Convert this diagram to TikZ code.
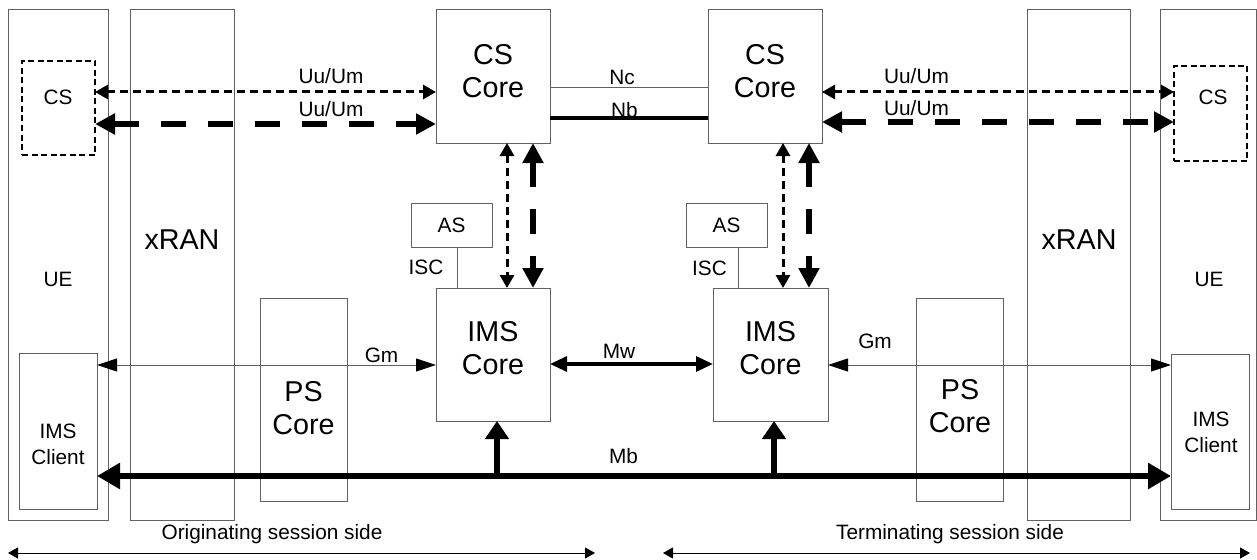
\documentclass[tikz,border=0pt]{standalone}
\usepackage{fontspec}
\setmainfont{Liberation Sans}
\usetikzlibrary{arrows.meta,calc}
\definecolor{boxgray}{gray}{0.38}
\begin{document}
\begin{tikzpicture}[x=1pt,y=-1pt,
  box/.style={draw=boxgray, line width=1pt, inner sep=0pt, outer sep=0pt, fill=white},
  dbox/.style={draw=black, line width=2pt, dash pattern=on 6pt off 3.5pt, inner sep=0pt, outer sep=0pt},
  big/.style={font=\fontsize{28.7}{33}\selectfont, align=center, inner sep=0pt},
  small/.style={font=\fontsize{20.8}{26}\selectfont, align=center, inner sep=0pt},
  thindash/.style={line width=3pt, dash pattern=on 8pt off 5pt, {Triangle[length=13pt,width=14pt]}-{Triangle[length=13pt,width=14pt]}},
  thickdash/.style={line width=6.5pt, dash pattern=on 25pt off 22pt, {Triangle[length=20pt,width=20pt]}-{Triangle[length=20pt,width=20pt]}},
  thinlink/.style={draw=boxgray, line width=1pt},
  gmlink/.style={draw=boxgray, line width=1pt, {Triangle[length=20pt,width=13pt,color=black]}-{Triangle[length=20pt,width=13pt,color=black]}},
  mwlink/.style={line width=3.3pt, {Triangle[length=17pt,width=15pt]}-{Triangle[length=17pt,width=15pt]}},
  mblink/.style={line width=6pt, {Triangle[length=23pt,width=25pt]}-{Triangle[length=23pt,width=25pt]}},
  mbup/.style={line width=6pt, -{Triangle[length=18pt,width=23pt]}},
  sidearrow/.style={line width=1pt, {Triangle[length=10pt,width=11pt]}-{Triangle[length=10pt,width=11pt]}}
]
\useasboundingbox (0,0) rectangle (1257,559);

% tall boxes
\node[box, minimum width=100pt, minimum height=510pt] (ueL) at (58,265) {};
\node[box, minimum width=104pt, minimum height=510pt] (ranL) at (182,265) {};
\node[box, minimum width=103pt, minimum height=510pt] (ranR) at (1078.5,265) {};
\node[box, minimum width=96pt, minimum height=510pt] (ueR) at (1208,265) {};
\node[small] (ueLt) at (58,279) {UE};
\node[big] (ranLt) at (182,240) {xRAN};
\node[big] (ranRt) at (1079,240) {xRAN};
\node[small] (ueRt) at (1209,279) {UE};

% CS boxes in UE
\node[dbox, minimum width=73pt, minimum height=94pt] (csL) at (58.5,108) {};
\node[small] (csLt) at (58,97) {CS};
\node[dbox, minimum width=73pt, minimum height=95pt] (csR) at (1210.5,113.5) {};
\node[small] (csRt) at (1213,97) {CS};

% IMS clients
\node[box, minimum width=78pt, minimum height=156pt] (imsclL) at (58,431) {};
\node[small] (imsclLt) at (58,444) {IMS\\Client};
\node[box, minimum width=78pt, minimum height=155pt] (imsclR) at (1210,431.5) {};
\node[small] (imsclRt) at (1211,432) {IMS\\Client};

% PS cores
\node[box, minimum width=87pt, minimum height=203pt] (psL) at (303.5,399.5) {};
\node[big] (psLt) at (303.5,408) {PS\\Core};
\node[box, minimum width=87pt, minimum height=203pt] (psR) at (959.5,399.5) {};
\node[big] (psRt) at (960,406) {PS\\Core};

% CS cores
\node[box, minimum width=114pt, minimum height=133pt] (cscL) at (493,76.5) {};
\node[big] (cscLt) at (493,71) {CS\\Core};
\node[box, minimum width=114pt, minimum height=133pt] (cscR) at (765,76.5) {};
\node[big] (cscRt) at (765,71) {CS\\Core};

% AS
\node[box, minimum width=81pt, minimum height=44pt, font=\fontsize{20.8}{26}\selectfont] (asL) at (451.5,225) {AS};
\node[box, minimum width=81pt, minimum height=44pt, font=\fontsize{20.8}{26}\selectfont] (asR) at (726.5,225) {AS};

% IMS cores
\node[box, minimum width=114pt, minimum height=133pt] (imsL) at (493,354.5) {};
\node[big] (imsLt) at (493,348) {IMS\\Core};
\node[box, minimum width=115pt, minimum height=133pt] (imsR) at (770.5,354.5) {};
\node[big] (imsRt) at (770.5,348) {IMS\\Core};

% helper heights
\coordinate (yU1) at (0,92);
\coordinate (yU2) at (0,124);
\coordinate (yU2r) at (0,122);
\coordinate (yNc) at (0,88);
\coordinate (yNb) at (0,118);
\coordinate (yGm) at (0,365);
\coordinate (yMw) at (0,364);
\coordinate (yMb) at (0,476);
\coordinate (xV1) at (507,0);
\coordinate (xV2) at (533,0);
\coordinate (xV3) at (783,0);
\coordinate (xV4) at (809,0);
\coordinate (xI1) at (457,0);
\coordinate (xI2) at (738,0);
\coordinate (xM1) at (497,0);
\coordinate (xM2) at (774,0);
\coordinate (sideL1) at (8,553);
\coordinate (sideL2) at (595,553);
\coordinate (sideR1) at (663,553);
\coordinate (sideR2) at (1250,553);

% Uu/Um links
\draw[thindash] (csL.east |- yU1) -- (cscL.west |- yU1);
\draw[thickdash] (csL.east |- yU2) -- (cscL.west |- yU2);
\draw[thindash] (cscR.east |- yU1) -- (csR.west |- yU1);
\draw[thickdash] (cscR.east |- yU2r) -- (csR.west |- yU2r);
\node[small] (uu1) at (331,76.5) {Uu/Um};
\node[small] (uu2) at (331,109) {Uu/Um};
\node[small] (uu3) at (916.5,76) {Uu/Um};
\node[small] (uu4) at (916.5,108) {Uu/Um};

% Nc / Nb
\draw[thinlink] (cscL.east |- yNc) -- (cscR.west |- yNc);
\draw[line width=4.5pt] (cscL.east |- yNb) -- (cscR.west |- yNb);
\node[small] (nc) at (622,77.5) {Nc};
\node[small] (nb) at (624.5,110) {Nb};

% CS core <-> IMS core
\draw[thindash] (cscL.south -| xV1) -- (imsL.north -| xV1);
\draw[thickdash] (cscL.south -| xV2) -- (imsL.north -| xV2);
\draw[thindash] (cscR.south -| xV3) -- (imsR.north -| xV3);
\draw[thickdash] (cscR.south -| xV4) -- (imsR.north -| xV4);

% ISC
\draw[thinlink] (asL.south -| xI1) -- (imsL.north -| xI1);
\draw[thinlink] (asR.south -| xI2) -- (imsR.north -| xI2);
\node[small] (iscL) at (426,267) {ISC};
\node[small] (iscR) at (709.5,268) {ISC};

% Gm
\draw[gmlink] (imsclL.east |- yGm) -- (imsL.west |- yGm);
\draw[gmlink] (imsR.east |- yGm) -- (imsclR.west |- yGm);
\node[small] (gmL) at (381.5,355) {Gm};
\node[small] (gmR) at (875,341.5) {Gm};

% Mw
\draw[mwlink] (imsL.east |- yMw) -- (imsR.west |- yMw);
\node[small] (mw) at (619,351) {Mw};

% Mb
\draw[mblink] (imsclL.east |- yMb) -- (imsclR.west |- yMb);
\coordinate (mbL) at (xM1 |- yMb);
\coordinate (mbR) at (xM2 |- yMb);
\draw[mbup] (mbL) -- (imsL.south -| xM1);
\draw[mbup] (mbR) -- (imsR.south -| xM2);
\node[small] (mb) at (623.5,456) {Mb};

% session sides
\draw[sidearrow] (sideL1) -- (sideL2);
\draw[sidearrow] (sideR1) -- (sideR2);
\node[small] (orig) at (272,534) {Originating session side};
\node[small] (term) at (950,534) {Terminating session side};
\end{tikzpicture}
\end{document}
